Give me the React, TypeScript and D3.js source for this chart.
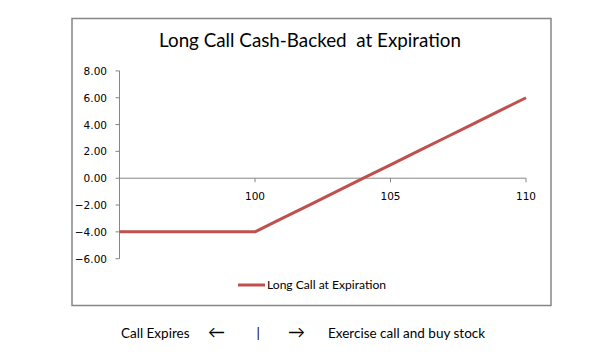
import React from "react";
import * as d3 from "d3";

const title = "Long Call Cash-Backed  at Expiration";
const seriesName = "Long Call at Expiration";
const prices = [95, 96, 97, 98, 99, 100, 101, 102, 103, 104, 105, 106, 107, 108, 109, 110];
const payoff = [-4, -4, -4, -4, -4, -4, -3, -2, -1, 0, 1, 2, 3, 4, 5, 6];
const yTicks = [8, 6, 4, 2, 0, -2, -4, -6];
const xTicks = [100, 105, 110];
const footer = ["Call Expires", "←", "|", "→", "Exercise call and buy stock"];

export default function App() {
  const W = 600, H = 360;
  const x = d3.scaleLinear().domain([95, 110]).range([119.5, 526]);
  const y = d3.scaleLinear().domain([-6, 8]).range([258.7, 70.9]);
  const line = d3.line<number>().x((_, i) => x(prices[i])).y((d) => y(d));
  const axisColor = "#868686";
  const red = "#C0504D";
  const footerX = [121, 208, 256.5, 288, 328];
  const axisFont = "DejaVu Sans, Verdana, sans-serif";
  const bodyFont = "Lato, 'Open Sans', sans-serif";
  return (
    <svg width={W} height={H} style={{ position: "absolute", left: 0, top: 0 }}>
      <rect x={0} y={0} width={W} height={H} fill="#fff" />
      <rect x={72} y={18.5} width={479} height={287} fill="#fff" stroke={axisColor} strokeWidth={1.5} />
      <text x={310} y={47} textAnchor="middle" fontFamily={bodyFont} fontSize={19} fill="#000" textLength={302} lengthAdjust="spacingAndGlyphs" style={{ whiteSpace: "pre" }}>
        {title}
      </text>
      {/* Y axis */}
      <line x1={x(95)} x2={x(95)} y1={y(8)} y2={y(-6)} stroke={axisColor} strokeWidth={1} />
      {yTicks.map((t) => (
        <g key={t}>
          <line x1={x(95) - 4} x2={x(95)} y1={y(t)} y2={y(t)} stroke={axisColor} strokeWidth={1} />
          <text x={107} y={y(t) + 4} textAnchor="end" style={{ fontFamily: axisFont }} fontSize={10.5} fill="#000">
            {d3.format(".2f")(t)}
          </text>
        </g>
      ))}
      {/* X axis */}
      <line x1={x(95)} x2={x(110)} y1={y(0)} y2={y(0)} stroke={axisColor} strokeWidth={1} />
      {xTicks.map((t) => (
        <g key={t}>
          <line x1={x(t)} x2={x(t)} y1={y(0)} y2={y(0) + 4} stroke={axisColor} strokeWidth={1} />
          <text x={x(t)} y={200} textAnchor="middle" style={{ fontFamily: axisFont }} fontSize={10.5} fill="#000">
            {t}
          </text>
        </g>
      ))}
      <path d={line(payoff) || ""} fill="none" stroke={red} strokeWidth={3} strokeLinejoin="round" />
      {/* Legend */}
      <line x1={238} x2={265} y1={285} y2={285} stroke={red} strokeWidth={3} />
      <text x={267} y={289} fontFamily={bodyFont} fontSize={12} fill="#000" textLength={119} lengthAdjust="spacingAndGlyphs">
        {seriesName}
      </text>
      {/* Footer */}
      {footer.map((s, i) => {
        const arrow = i === 1 || i === 3;
        return (
          <text key={i} x={footerX[i]} y={338} style={{ fontFamily: bodyFont }} fontSize={arrow ? 17 : 13.5} fill="#000">
            {s}
          </text>
        );
      })}
    </svg>
  );
}
